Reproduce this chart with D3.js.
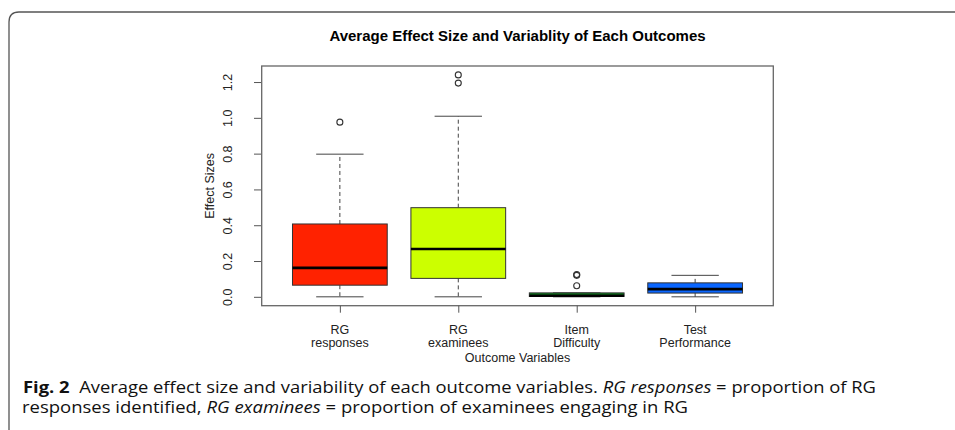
<!DOCTYPE html>
<html>
<head>
<meta charset="utf-8">
<script src="https://cdn.jsdelivr.net/npm/d3@7"></script>
<style>
  html, body { margin: 0; padding: 0; background: #fff; }
  svg { display: block; }
</style>
</head>
<body>
<svg id="chart"></svg>
<script>
// Chart data
const categories = [["RG", "responses"], ["RG", "examinees"], ["Item", "Difficulty"], ["Test", "Performance"]];
const boxColors = ["#ff2200", "#ccff00", "#0b7a1a", "#0a66ff"];
const lowWhisker = [0, 0, 0, 0];
const q1 = [0.065, 0.103, 0.002, 0.021];
const median = [0.162, 0.267, 0.006, 0.043];
const q3 = [0.407, 0.498, 0.022, 0.078];
const highWhisker = [0.797, 1.009, 0.022, 0.12];
const outliers = [[0.976], [1.194, 1.24], [0.062, 0.12, 0.125], []];
const yTicks = [0, 0.2, 0.4, 0.6, 0.8, 1.0, 1.2];

// Dimensions
const width = 955;
const height = 430;
const plot = { left: 261.7, right: 773.3, top: 66, bottom: 305.7 };

const svg = d3.select("#chart")
  .attr("width", width)
  .attr("height", height);

// Figure frame (rounded top-left corner)
svg.append("path")
  .attr("d", "M9,430 L9,22 Q9,12 19,12 L955,12")
  .attr("fill", "none")
  .attr("stroke", "#555")
  .attr("stroke-width", 1.3);

// Scales (R style: 4% padding around the data range)
const x = d3.scaleLinear()
  .domain([0.34, 4.66])
  .range([plot.left, plot.right]);

const y = d3.scaleLinear()
  .domain([-0.0496, 1.2896])
  .range([plot.bottom, plot.top]);

const boxHalf = 0.4;
const capHalf = 0.2;
const font = "'Liberation Sans', Arial, sans-serif";

// Title
svg.append("text")
  .attr("x", (plot.left + plot.right) / 2)
  .attr("y", 41)
  .attr("text-anchor", "middle")
  .style("font-family", font)
  .style("font-weight", "bold")
  .style("font-size", "15px")
  .attr("fill", "#000")
  .text("Average Effect Size and Variablity of Each Outcomes");

// Boxes
const boxes = svg.append("g")
  .selectAll("g")
  .data(categories.map((c, i) => ({
    i: i, pos: i + 1, lo: lowWhisker[i], q1: q1[i], med: median[i], q3: q3[i], hi: highWhisker[i], out: outliers[i], color: boxColors[i]
  })))
  .enter()
  .append("g");

// Whiskers (dashed)
boxes.append("line")
  .attr("x1", d => x(d.pos)).attr("x2", d => x(d.pos))
  .attr("y1", d => y(d.q3)).attr("y2", d => y(d.hi))
  .attr("stroke", "#444").attr("stroke-width", 1)
  .attr("stroke-dasharray", "4,3");

boxes.append("line")
  .attr("x1", d => x(d.pos)).attr("x2", d => x(d.pos))
  .attr("y1", d => y(d.q1)).attr("y2", d => y(d.lo))
  .attr("stroke", "#444").attr("stroke-width", 1)
  .attr("stroke-dasharray", "4,3");

// Whisker caps
["hi", "lo"].forEach(k => {
  boxes.append("line")
    .attr("x1", d => x(d.pos - capHalf)).attr("x2", d => x(d.pos + capHalf))
    .attr("y1", d => y(d[k])).attr("y2", d => y(d[k]))
    .attr("stroke", "#444").attr("stroke-width", 1);
});

// Box body
boxes.append("rect")
  .attr("x", d => x(d.pos - boxHalf))
  .attr("width", d => x(d.pos + boxHalf) - x(d.pos - boxHalf))
  .attr("y", d => y(d.q3))
  .attr("height", d => y(d.q1) - y(d.q3))
  .attr("fill", d => d.color)
  .attr("stroke", "#333")
  .attr("stroke-width", 1);

// Median
boxes.append("line")
  .attr("x1", d => x(d.pos - boxHalf)).attr("x2", d => x(d.pos + boxHalf))
  .attr("y1", d => y(d.med)).attr("y2", d => y(d.med))
  .attr("stroke", "#000").attr("stroke-width", 2.6);

// Outliers
boxes.selectAll("circle")
  .data(d => d.out.map(v => ({ pos: d.pos, v: v })))
  .enter()
  .append("circle")
  .attr("cx", d => x(d.pos))
  .attr("cy", d => y(d.v))
  .attr("r", 3)
  .attr("fill", "none")
  .attr("stroke", "#333")
  .attr("stroke-width", 1.1);

// Plot frame
svg.append("rect")
  .attr("x", plot.left)
  .attr("y", plot.top)
  .attr("width", plot.right - plot.left)
  .attr("height", plot.bottom - plot.top)
  .attr("fill", "none")
  .attr("stroke", "#666")
  .attr("stroke-width", 1.3);

// Y axis
const yAxis = svg.append("g")
  .attr("transform", `translate(${plot.left - 0.7},0)`)
  .call(d3.axisLeft(y).tickValues(yTicks).tickSize(7).tickFormat(d3.format(".1f")));
yAxis.select(".domain").remove();
yAxis.selectAll(".tick line").attr("stroke", "#555");
yAxis.selectAll(".tick text")
  .attr("x", null).attr("dy", null)
  .attr("text-anchor", "middle")
  .attr("transform", "translate(-29.5,0) rotate(-90)")
  .attr("fill", "#222")
  .style("font-family", font)
  .style("font-size", "12.5px");

// X axis
const xAxis = svg.append("g")
  .attr("transform", `translate(0,${plot.bottom})`)
  .call(d3.axisBottom(x).tickValues([1, 2, 3, 4]).tickSize(7).tickFormat(""));
xAxis.select(".domain").remove();
xAxis.selectAll(".tick line").attr("stroke", "#555");

const xLabels = svg.append("g")
  .selectAll("text")
  .data(categories)
  .enter()
  .append("text")
  .attr("text-anchor", "middle")
  .attr("fill", "#222")
  .style("font-family", font)
  .style("font-size", "12.5px");
xLabels.append("tspan")
  .attr("x", (d, i) => x(i + 1)).attr("y", 333.5)
  .text(d => d[0]);
xLabels.append("tspan")
  .attr("x", (d, i) => x(i + 1)).attr("y", 347)
  .text(d => d[1]);

// Axis titles
svg.append("text")
  .attr("x", (plot.left + plot.right) / 2)
  .attr("y", 362)
  .attr("text-anchor", "middle")
  .attr("fill", "#222")
  .style("font-family", font)
  .style("font-size", "12.5px")
  .text("Outcome Variables");

svg.append("text")
  .attr("transform", `translate(214,${(plot.top + plot.bottom) / 2}) rotate(-90)`)
  .attr("text-anchor", "middle")
  .attr("fill", "#222")
  .style("font-family", font)
  .style("font-size", "12.5px")
  .text("Effect Sizes");

// Caption
const capFont = "'Open Sans', 'Noto Sans', sans-serif";
const cap1 = svg.append("text")
  .attr("x", 23).attr("y", 393)
  .attr("textLength", 853)
  .attr("lengthAdjust", "spacingAndGlyphs")
  .attr("fill", "#111")
  .style("font-family", capFont)
  .style("font-size", "15.5px");
cap1.append("tspan").style("font-weight", "bold").text("Fig. 2");
cap1.append("tspan").text("\u00a0 Average effect size and variability of each outcome variables. ");
cap1.append("tspan").style("font-style", "italic").text("RG responses");
cap1.append("tspan").text(" = proportion of RG");

const cap2 = svg.append("text")
  .attr("x", 22).attr("y", 413)
  .attr("textLength", 666)
  .attr("lengthAdjust", "spacingAndGlyphs")
  .attr("fill", "#111")
  .style("font-family", capFont)
  .style("font-size", "15.5px");
cap2.append("tspan").text("responses identified, ");
cap2.append("tspan").style("font-style", "italic").text("RG examinees");
cap2.append("tspan").text(" = proportion of examinees engaging in RG");
</script>
</body>
</html>
